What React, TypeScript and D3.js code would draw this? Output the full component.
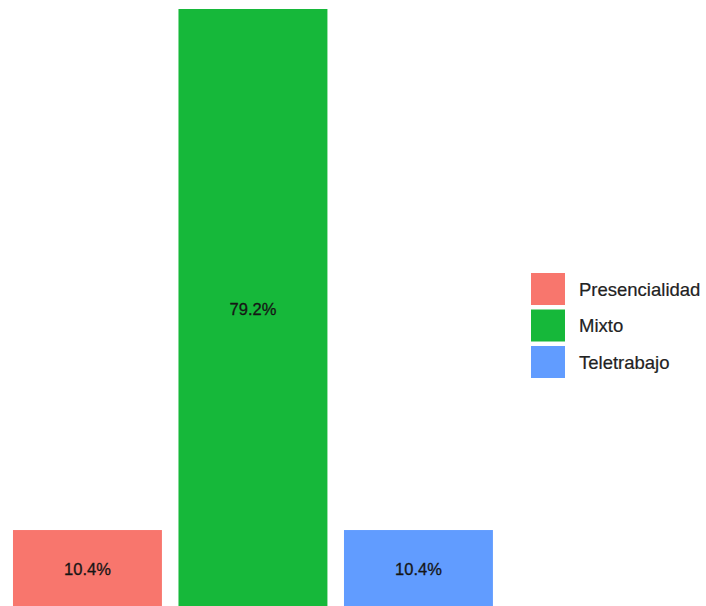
import React from "react";
import * as d3 from "d3";

const categories = ["Presencialidad", "Mixto", "Teletrabajo"];
const values = [10.4, 79.2, 10.4];
const colors = ["#F8766D", "#16B83A", "#619CFF"];

const W = 706;
const H = 606;

export default function App() {
  const x = d3
    .scaleBand<string>()
    .domain(categories)
    .range([4.7, 501.2])
    .paddingInner(0.1)
    .paddingOuter(0.05);
  const y = d3.scaleLinear().domain([0, 79.2]).range([608.8, 9]);
  const color = d3.scaleOrdinal<string, string>().domain(categories).range(colors);

  const legendX = 531;
  const legendY = 273;
  const keyW = 34;
  const keyH = 32;
  const keyStep = 36.5;

  return (
    <svg
      width={W}
      height={H}
      style={{ position: "fixed", left: 0, top: 0, background: "#fff" }}
      fontFamily="'Liberation Sans', Arial, sans-serif"
    >
      <rect x={0} y={0} width={W} height={H} fill="#fff" />
      {categories.map((c, i) => (
        <g key={c}>
          <rect
            x={x(c)}
            y={y(values[i])}
            width={x.bandwidth()}
            height={y(0) - y(values[i])}
            fill={color(c)}
          />
          <text
            x={(x(c) as number) + x.bandwidth() / 2}
            y={(y(values[i]) + y(0)) / 2}
            textAnchor="middle"
            dominantBaseline="central"
            fontSize={16.5}
            fill="#151515"
            stroke="#151515"
            strokeWidth={0.3}
          >
            {values[i].toFixed(1)}%
          </text>
        </g>
      ))}
      {categories.map((c, i) => (
        <g key={"lg" + c} transform={`translate(${legendX},${legendY + i * keyStep})`}>
          <rect width={keyW} height={keyH} fill={color(c)} />
          <text
            x={48}
            y={keyH / 2}
            dominantBaseline="central"
            fontSize={18.5}
            fill="#222"
            stroke="#222"
            strokeWidth={0.2}
          >
            {c}
          </text>
        </g>
      ))}
    </svg>
  );
}
